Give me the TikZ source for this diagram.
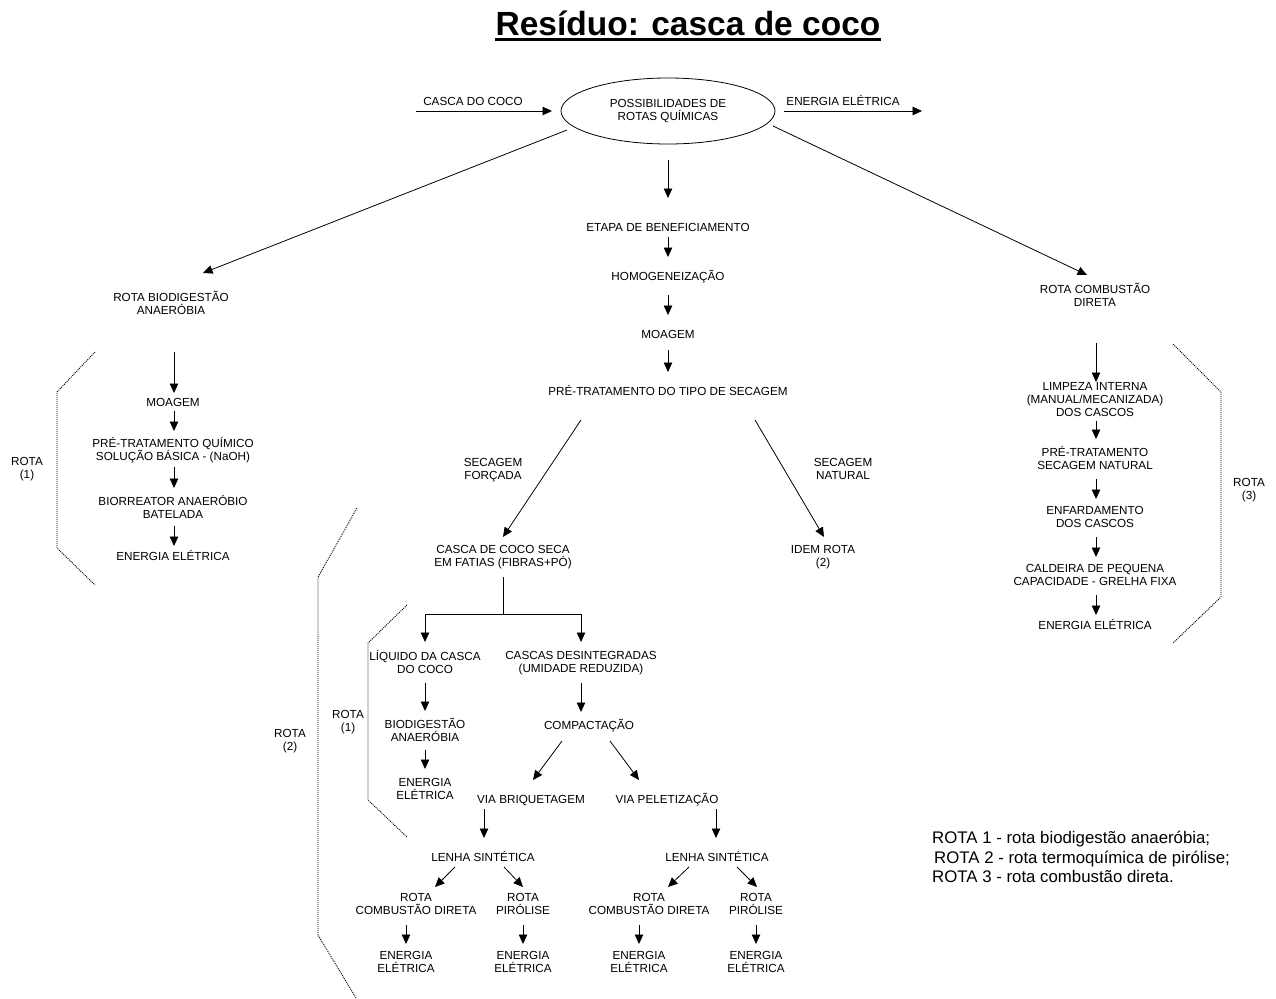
\documentclass[tikz,border=0pt]{standalone}
\usepackage{fontspec}
\setmainfont{Liberation Sans}
\usetikzlibrary{arrows.meta,shapes.geometric,calc}
\newcommand\tstrut{\vrule width 0pt height 10.5pt depth 2.1pt\relax}
\newcommand\txfont{\fontsize{11.7}{13}\selectfont\lineskiplimit=-30pt\relax}
\begin{document}
\begin{tikzpicture}[x=1pt,y=-1pt,
  tx/.style={inner sep=0pt,outer sep=0pt,align=center,font=\txfont,
    execute at begin node=\tstrut,execute at end node=\tstrut},
  arr/.style={line width=0.8pt,-{Triangle[length=9.5pt,width=8.5pt]}},
  plain/.style={line width=0.8pt},
  brk/.style={line width=0.9pt,black,dash pattern=on 1pt off 1pt},
  legend/.style={inner sep=0pt,anchor=base west,font=\fontsize{16.8}{20}\selectfont}]
\useasboundingbox (0,0) rectangle (1276,998);

% title
\node[inner sep=0pt,font=\fontsize{33.5}{40}\selectfont\bfseries] (title) at (688,23) {Resíduo: casca de coco};
\draw[line width=2.8pt] ($(title.south west)+(0,3.5)$) -- ($(title.south east)+(0,3.5)$);

% central ellipse and its inputs/outputs
\node[tx,draw,ellipse,line width=0.8pt,minimum width=214,minimum height=66] (ell) at (668,111)
  {POSSIBILIDADES DE\\ROTAS QUÍMICAS};
\node[tx] (cin) at (473,101) {CASCA DO COCO};
\node[tx] (eout) at (843,101) {ENERGIA ELÉTRICA};
\coordinate (inS) at (416,111);
\coordinate (outE) at (922,111);
\draw[arr] (inS) -- ($(ell.center)+(-116,0)$);
\draw[arr] ($(ell.center)+(116,0)$) -- (outE);

% route 1 (left)
\node[tx] (rotabio) at (171,304) {ROTA BIODIGESTÃO\\ANAERÓBIA};
\node[tx] (lmoag) at (173,402) {MOAGEM};
\node[tx] (lpre) at (173,450) {PRÉ-TRATAMENTO QUÍMICO\\SOLUÇÃO BÁSICA - (NaOH)};
\node[tx] (lbio) at (173,508) {BIORREATOR ANAERÓBIO\\BATELADA};
\node[tx] (len) at (173,556) {ENERGIA ELÉTRICA};
\node[tx] (r1) at (27,469) {ROTA\\(1)};
\draw[arr] ($(ell.center)+(-101,19)$) -- ($(rotabio.center)+(32,-31)$);
\draw[arr] ($(rotabio.center)+(3,48)$) -- ($(lmoag.center)+(1,-9)$);
\draw[arr] ($(lmoag.center)+(1,9)$) -- ($(lpre.center)+(1,-19)$);
\draw[arr] ($(lpre.center)+(1,17)$) -- ($(lbio.center)+(1,-20)$);
\draw[arr] ($(lbio.center)+(1,18)$) -- ($(len.center)+(1,-10)$);
\draw[brk] (95,352) -- (57,392) -- (57,548) -- (95,585);

% route 3 (right)
\node[tx] (rotacomb) at (1095,296) {ROTA COMBUSTÃO\\DIRETA};
\node[tx] (limp) at (1095,401) {LIMPEZA INTERNA\\(MANUAL/MECANIZADA)\\DOS CASCOS};
\node[tx] (rpre) at (1095,459) {PRÉ-TRATAMENTO\\SECAGEM NATURAL};
\node[tx] (enf) at (1095,518) {ENFARDAMENTO\\DOS CASCOS};
\node[tx] (cald) at (1095,576) {CALDEIRA DE PEQUENA\\CAPACIDADE - GRELHA FIXA};
\node[tx] (ren) at (1095,625) {ENERGIA ELÉTRICA};
\node[tx] (r3) at (1249,490) {ROTA\\(3)};
\draw[arr] ($(ell.center)+(105,15)$) -- ($(rotacomb.center)+(-8,-21)$);
\draw[arr] ($(rotacomb.center)+(1,47)$) -- ($(limp.center)+(1,-19)$);
\draw[arr] ($(limp.center)+(1,20)$) -- ($(rpre.center)+(1,-20)$);
\draw[arr] ($(rpre.center)+(1,20)$) -- ($(enf.center)+(1,-19)$);
\draw[arr] ($(enf.center)+(1,19)$) -- ($(cald.center)+(1,-19)$);
\draw[arr] ($(cald.center)+(1,19)$) -- ($(ren.center)+(1,-10)$);
\draw[brk] (1173,344) -- (1221,392) -- (1221,597) -- (1173,643);

% route 2 (centre): preparation
\node[tx] (etapa) at (668,227) {ETAPA DE BENEFICIAMENTO};
\node[tx] (homog) at (668,276) {HOMOGENEIZAÇÃO};
\node[tx] (moag) at (668,334) {MOAGEM};
\node[tx] (pret) at (668,391) {PRÉ-TRATAMENTO DO TIPO DE SECAGEM};
\draw[arr] ($(ell.center)+(0,49)$) -- ($(etapa.center)+(0,-29)$);
\draw[arr] ($(etapa.center)+(0,10)$) -- ($(homog.center)+(0,-19)$);
\draw[arr] ($(homog.center)+(0,19)$) -- ($(moag.center)+(0,-19)$);
\draw[arr] ($(moag.center)+(0,16)$) -- ($(pret.center)+(0,-19)$);

% drying alternatives
\node[tx] (secf) at (493,470) {SECAGEM\\FORÇADA};
\node[tx] (secn) at (843,470) {SECAGEM\\NATURAL};
\node[tx] (cseca) at (503,557) {CASCA DE COCO SECA\\EM FATIAS (FIBRAS+PÓ)};
\node[tx] (idem) at (823,557) {IDEM ROTA\\(2)};
\draw[arr] ($(pret.center)+(-87,29)$) -- ($(cseca.center)+(0,-20)$);
\draw[arr] ($(pret.center)+(87,29)$) -- ($(idem.center)+(1,-20)$);

% split of the dried husk
\node[tx] (liq) at (425,663) {LÍQUIDO DA CASCA\\DO COCO};
\node[tx] (cascas) at (581,663) {CASCAS DESINTEGRADAS\\(UMIDADE REDUZIDA)};
\draw[plain] ($(cseca.center)+(0,20)$) -- ($(cseca.center)+(0,57)$) coordinate (fork);
\draw[arr] (fork) -| ($(liq.center)+(0,-21)$);
\draw[arr] (fork) -| ($(cascas.center)+(0,-21)$);

% liquid branch
\node[tx] (biod) at (425,731) {BIODIGESTÃO\\ANAERÓBIA};
\node[tx] (en1) at (425,790) {ENERGIA\\ELÉTRICA};
\node[tx] (r1b) at (348,722) {ROTA\\(1)};
\draw[arr] ($(liq.center)+(0,20)$) -- ($(biod.center)+(0,-20)$);
\draw[arr] ($(biod.center)+(0,19)$) -- ($(en1.center)+(0,-21)$);
\draw[brk] (407,605) -- (368,643) -- (368,800) -- (407,837);

% solid branch
\node[tx] (compac) at (589,725) {COMPACTAÇÃO};
\node[tx] (vbriq) at (531,799) {VIA BRIQUETAGEM};
\node[tx] (vpel) at (667,799) {VIA PELETIZAÇÃO};
\draw[arr] ($(cascas.center)+(0,20)$) -- ($(compac.center)+(-8,-13)$);
\draw[arr] ($(compac.center)+(-27,16)$) -- ($(vbriq.center)+(2,-19)$);
\draw[arr] ($(compac.center)+(21,16)$) -- ($(vpel.center)+(-28,-19)$);

\node[tx] (lenha1) at (483,857) {LENHA SINTÉTICA};
\node[tx] (lenha2) at (717,857) {LENHA SINTÉTICA};
\draw[arr] ($(vbriq.center)+(-47,10)$) -- ($(lenha1.center)+(1,-19)$);
\draw[arr] ($(vpel.center)+(49,10)$) -- ($(lenha2.center)+(-1,-19)$);

\node[tx] (rcd1) at (416,905) {ROTA\\COMBUSTÃO DIRETA};
\node[tx] (rp1) at (523,905) {ROTA\\PIRÓLISE};
\node[tx] (rcd2) at (649,905) {ROTA\\COMBUSTÃO DIRETA};
\node[tx] (rp2) at (756,905) {ROTA\\PIRÓLISE};
\draw[arr] ($(lenha1.center)+(-28,10)$) -- ($(rcd1.center)+(19,-18)$);
\draw[arr] ($(lenha1.center)+(21,10)$) -- ($(rp1.center)+(0,-18)$);
\draw[arr] ($(lenha2.center)+(-28,10)$) -- ($(rcd2.center)+(19,-18)$);
\draw[arr] ($(lenha2.center)+(20,10)$) -- ($(rp2.center)+(1,-18)$);

\node[tx] (e1) at (406,963) {ENERGIA\\ELÉTRICA};
\node[tx] (e2) at (523,963) {ENERGIA\\ELÉTRICA};
\node[tx] (e3) at (639,963) {ENERGIA\\ELÉTRICA};
\node[tx] (e4) at (756,963) {ENERGIA\\ELÉTRICA};
\draw[arr] ($(rcd1.center)+(-10,20)$) -- ($(e1.center)+(0,-19)$);
\draw[arr] ($(rp1.center)+(0,20)$) -- ($(e2.center)+(0,-19)$);
\draw[arr] ($(rcd2.center)+(-10,20)$) -- ($(e3.center)+(0,-19)$);
\draw[arr] ($(rp2.center)+(0,20)$) -- ($(e4.center)+(0,-19)$);

\node[tx] (r2) at (290,741) {ROTA\\(2)};
\draw[brk] (357,508) -- (318,577) -- (318,935) -- (356,998);

% legend
\node[legend] (leg1) at (932,843) {ROTA 1 - rota biodigestão anaeróbia;};
\node[legend] (leg2) at (934,863) {ROTA 2 - rota termoquímica de pirólise;};
\node[legend] (leg3) at (932,882) {ROTA 3 - rota combustão direta.};
\end{tikzpicture}
\end{document}
